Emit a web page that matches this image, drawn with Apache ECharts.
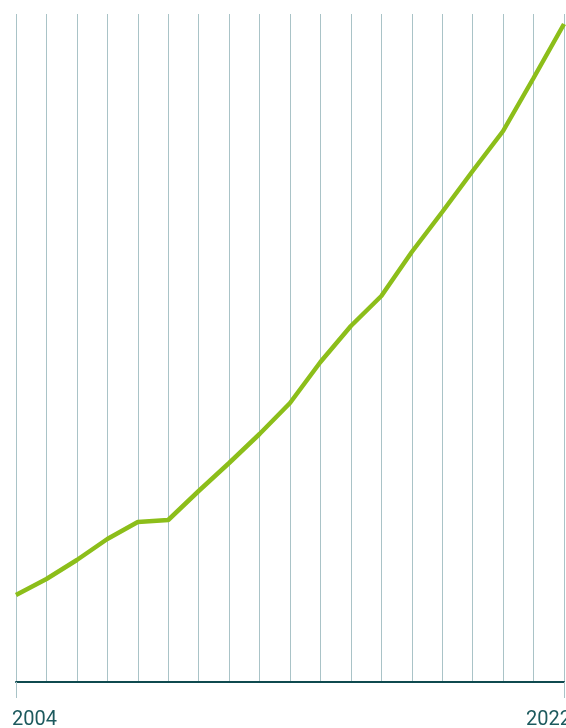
<!DOCTYPE html>
<html>
<head>
<meta charset="utf-8">
<script src="https://cdn.jsdelivr.net/npm/echarts@6/dist/echarts.min.js"></script>
<style>
  html, body { margin: 0; padding: 0; background: #fff; }
  #chart { width: 566px; height: 728px; }
</style>
</head>
<body>
<div id="chart"></div>
<script>
const years = ['2004', '2005', '2006', '2007', '2008', '2009', '2010', '2011', '2012', '2013',
  '2014', '2015', '2016', '2017', '2018', '2019', '2020', '2021', '2022']
// values (no y axis shown, so units are relative)
const values = [87, 103, 122, 143, 160, 162, 191, 219, 248, 279,
  320, 356, 386, 430, 470, 511, 551, 604, 658]
const shownLabels = ['2004', '2022']

const last = years.length - 1
const chart = echarts.init(document.getElementById('chart'))
chart.setOption({
  animation: false,
  grid: { left: 16, right: 2, top: 14, bottom: 46, containLabel: false, outerBoundsMode: 'none' },
  xAxis: {
    type: 'category',
    data: years,
    boundaryGap: false,
    axisLine: { lineStyle: { color: '#0f4a4f', width: 2 } },
    axisTick: {
      show: true,
      length: 16,
      interval: (i) => i === 0 || i === last,
      lineStyle: { color: '#a9c3c7', width: 1 }
    },
    splitLine: { show: true, interval: 0, lineStyle: { color: '#a9c3c7', width: 1 } },
    axisLabel: {
      interval: (i, v) => shownLabels.includes(v),
      margin: 28,
      fontSize: 20,
      fontFamily: 'Roboto',
      color: '#1d5a5e',
      padding: [0, -7, 0, -4],
      alignMinLabel: 'left',
      alignMaxLabel: 'right'
    }
  },
  yAxis: {
    type: 'value',
    min: 0,
    max: 668,
    show: false,
    splitLine: { show: false }
  },
  series: [{
    type: 'line',
    data: values,
    symbol: 'none',
    lineStyle: { color: '#8cbe1a', width: 4.5 },
    clip: false
  }]
})
</script>
</body>
</html>
